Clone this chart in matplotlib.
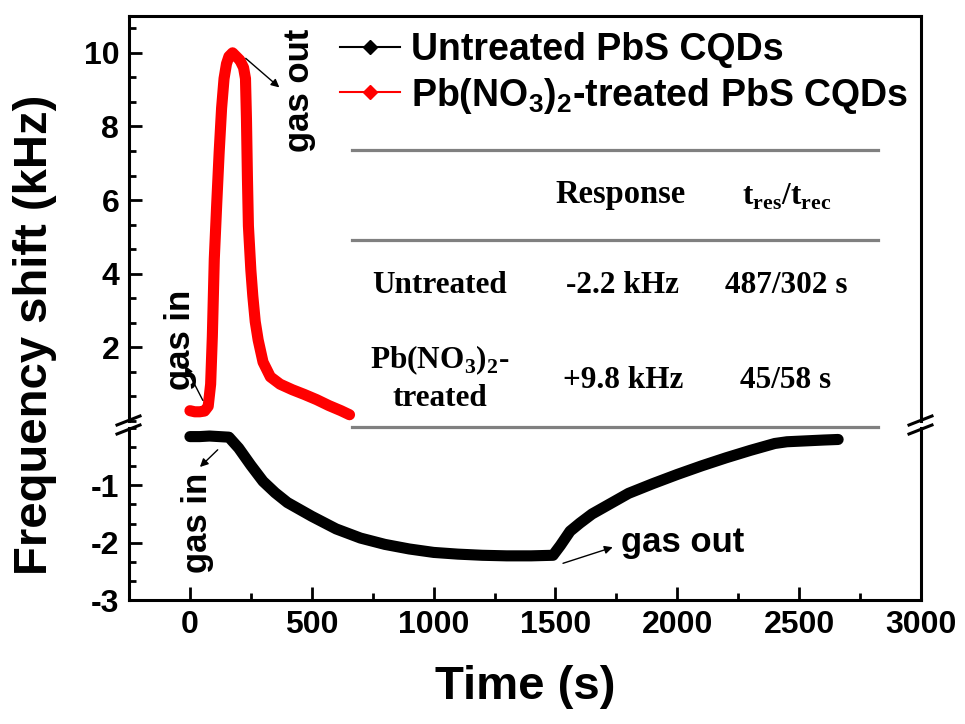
import matplotlib
matplotlib.use("Agg")
import matplotlib.pyplot as plt
from matplotlib.lines import Line2D
from matplotlib.ticker import MultipleLocator, FixedLocator

plt.rcParams['font.family'] = ['Liberation Sans', 'DejaVu Sans']
plt.rcParams['font.weight'] = 'bold'
plt.rcParams['mathtext.fontset'] = 'custom'
plt.rcParams['mathtext.rm'] = 'Liberation Serif:bold'
plt.rcParams['mathtext.sf'] = 'Liberation Sans:bold'
plt.rcParams['mathtext.bf'] = 'Liberation Serif:bold'

# ---------------- data ----------------
untreated_t = [0, 40, 80, 120, 160, 200, 250, 300, 350, 400, 500, 600, 700, 800,
               900, 1000, 1100, 1200, 1300, 1400, 1490, 1520, 1560, 1600, 1650,
               1700, 1800, 1900, 2000, 2100, 2200, 2300, 2400, 2450, 2500, 2550,
               2600, 2660]
untreated_v = [-0.15, -0.15, -0.14, -0.15, -0.16, -0.35, -0.65, -0.93, -1.13, -1.30,
               -1.54, -1.76, -1.92, -2.03, -2.11, -2.17, -2.20, -2.22, -2.23, -2.23,
               -2.22, -2.05, -1.80, -1.66, -1.50, -1.38, -1.14, -0.97, -0.81, -0.66,
               -0.52, -0.39, -0.27, -0.24, -0.23, -0.22, -0.21, -0.20]

treated_t = [0, 20, 40, 60, 75, 85, 92, 100, 110, 120, 130, 140, 150, 160, 175,
             190, 205, 220, 228, 232, 236, 240, 250, 258, 268, 280, 300, 330, 370,
             420, 470, 520, 570, 620, 655]
treated_v = [0.28, 0.25, 0.25, 0.27, 0.40, 1.0, 2.3, 4.4, 5.9, 7.3, 8.5, 9.3, 9.7,
             9.9, 10.0, 9.9, 9.8, 9.6, 9.3, 8.2, 6.6, 5.3, 4.1, 3.4, 2.7, 2.2, 1.6,
             1.2, 1.0, 0.85, 0.72, 0.58, 0.42, 0.28, 0.17]

x_ticks = [0, 500, 1000, 1500, 2000, 2500, 3000]
top_y_ticks = [2, 4, 6, 8, 10]
bottom_y_ticks = [-3, -2, -1]

legend_labels = ['Untreated PbS CQDs', r'Pb(NO$_\mathsf{3}$)$_\mathsf{2}$-treated PbS CQDs']

table_header = ['Response', r't$_\mathrm{res}$/t$_\mathrm{rec}$']
table_rows = ['Untreated', r'Pb(NO$_\mathrm{3}$)$_\mathrm{2}$-' + '\ntreated']
table_response = ['-2.2 kHz', '+9.8 kHz']
table_times = ['487/302 s', '45/58 s']

# ---------------- figure ----------------
W, H = 965, 724
fig = plt.figure(figsize=(W / 100, H / 100), dpi=100)

def fx(px):
    return px / W

def fy(py):
    return 1 - py / H

L, R = 129, 921
ax_top = fig.add_axes([fx(L), fy(421), fx(R) - fx(L), fy(16) - fy(421)])
ax_bot = fig.add_axes([fx(L), fy(600), fx(R) - fx(L), fy(428) - fy(600)])
for a in (ax_top, ax_bot):
    a.set_facecolor('none')

lw_data = 8
ax_top.plot(treated_t, treated_v, color='#ff0000', lw=lw_data,
            solid_capstyle='round', solid_joinstyle='round', zorder=3)
ax_bot.plot(untreated_t, untreated_v, color='black', lw=lw_data,
            solid_capstyle='round', solid_joinstyle='round', zorder=3)

for a in (ax_top, ax_bot):
    a.set_xlim(-250, 3000)
    for s in a.spines.values():
        s.set_linewidth(2.2)
ax_top.set_ylim(0, 11)
ax_bot.set_ylim(-3, 0)
ax_top.spines['bottom'].set_visible(False)
ax_bot.spines['top'].set_visible(False)

ax_top.yaxis.set_major_locator(FixedLocator(top_y_ticks))
ax_top.yaxis.set_minor_locator(MultipleLocator(2 / 3))
ax_top.set_yticklabels([str(v) for v in top_y_ticks])
ax_top.tick_params(axis='x', which='both', bottom=False, top=False,
                   labelbottom=False)

ax_bot.yaxis.set_major_locator(FixedLocator(bottom_y_ticks))
ax_bot.yaxis.set_minor_locator(MultipleLocator(1 / 3))
ax_bot.set_yticklabels([str(v) for v in bottom_y_ticks])
ax_bot.xaxis.set_major_locator(FixedLocator(x_ticks))
ax_bot.xaxis.set_minor_locator(MultipleLocator(250))
ax_bot.set_xticklabels([str(v) for v in x_ticks])

for a in (ax_top, ax_bot):
    a.tick_params(which='major', direction='in', length=9.5, width=2.0,
                  labelsize=23, right=False, top=False, pad=7)
    a.tick_params(which='minor', direction='in', length=5, width=2.0,
                  right=False, top=False)

ax_bot.set_xlabel('Time (s)', fontsize=34, fontweight='bold', labelpad=18)
fig.text(fx(35), fy(335), 'Frequency shift (kHz)', fontsize=34, fontweight='bold',
         rotation=90, ha='center', va='center')

# break marks
for xb in (L, R):
    for yb in (421, 430):
        fig.add_artist(Line2D([fx(xb - 12), fx(xb + 11)], [fy(yb + 4), fy(yb - 5)],
                              color='black', lw=2.2, transform=fig.transFigure))

# legend
handles = [Line2D([], [], color='black', lw=1.5, marker='D', ms=7),
           Line2D([], [], color='#ff0000', lw=1.5, marker='D', ms=7)]
ax_top.legend(handles, legend_labels, loc='upper left',
              bbox_to_anchor=(fx(340), fy(32)), bbox_transform=fig.transFigure,
              frameon=False, fontsize=27, handlelength=1.6, handletextpad=0.3,
              labelspacing=0.2, borderpad=0, borderaxespad=0)

# table
for yl in (150, 240, 427):
    fig.add_artist(Line2D([fx(352), fx(878)], [fy(yl), fy(yl)], color='#808080',
                          lw=2.3, transform=fig.transFigure))
tfont = dict(family='Liberation Serif', fontweight='bold', fontsize=22.5,
             ha='center', va='center')
fig.text(fx(621), fy(195), table_header[0], fontsize=23.5,
         **{k: v for k, v in tfont.items() if k != 'fontsize'})
fig.text(fx(787), fy(197), table_header[1], **tfont)
row_y = [285, 378]
for i in range(2):
    fig.text(fx(440), fy(row_y[i]), table_rows[i], linespacing=1.3, **tfont)
    fig.text(fx(623), fy(row_y[i] + (2 if i else 0)), table_response[i], **tfont)
    fig.text(fx(786), fy(row_y[i] + (2 if i else 0)), table_times[i], **tfont)

# annotations
arrow = dict(arrowstyle='-|>', color='black', lw=1.0, mutation_scale=12,
             shrinkA=0, shrinkB=0)
afont = dict(fontsize=25, fontweight='bold')
ax_top.annotate('', xy=(367, 9.06), xytext=(229, 9.85), arrowprops=arrow)
ax_top.text(449, 8.98, 'gas out', rotation=90, ha='center', va='center', **afont)
ax_top.annotate('', xy=(-20, 1.5), xytext=(53, 0.56), arrowprops=arrow)
ax_top.text(-37, 2.19, 'gas in', rotation=90, ha='center', va='center', **afont)
ax_bot.annotate('', xy=(41, -0.68), xytext=(114, -0.38), arrowprops=arrow)
ax_bot.text(33, -1.66, 'gas in', rotation=90, ha='center', va='center', **afont)
ax_bot.annotate('', xy=(1735, -2.08), xytext=(1531, -2.36), arrowprops=arrow)
ax_bot.text(2021, -2.0, 'gas out', ha='center', va='center', **afont)

fig.savefig('out.png', dpi=100)
